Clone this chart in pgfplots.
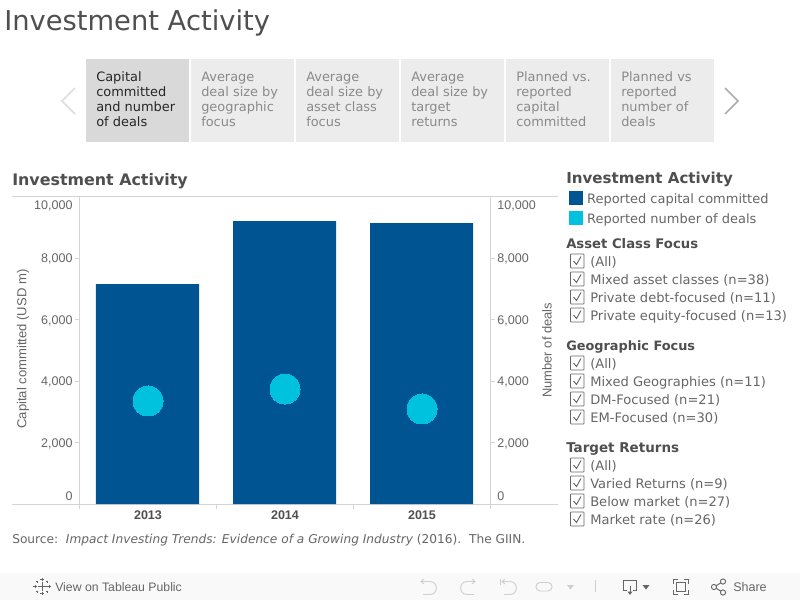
\documentclass[border=0pt]{standalone}
\usepackage{fontspec}
\setmainfont{DejaVu Sans}
\newfontfamily\arialf{Liberation Sans}
\usepackage{pgfplots}
\pgfplotsset{compat=1.18}
\usetikzlibrary{arrows.meta}
\definecolor{barblue}{HTML}{005492}
\definecolor{dotcyan}{HTML}{00C1DE}
\definecolor{rulegray}{HTML}{D4D4D4}
\definecolor{ticktxt}{HTML}{666666}
\definecolor{headtxt}{HTML}{4F4F4F}
\definecolor{paneltxt}{HTML}{666666}
\definecolor{tabon}{HTML}{D9D9D9}
\definecolor{taboff}{HTML}{ECECEC}
\definecolor{tabtxt}{HTML}{8A8A8A}
\definecolor{footbg}{HTML}{F9F9F9}
\definecolor{iconlight}{HTML}{CFCFCF}
\definecolor{icondark}{HTML}{666666}
% text at x, baseline y (pixels from the top left)
\newcommand{\tx}[4][]{\node[anchor=base west,inner sep=0pt,#1] at (#2,#3) {#4};}
\newcommand{\tabtext}[6]{%
  \tx[text=#2,font=\fontsize{9.7}{12}\selectfont]{#1+10}{81}{#3}
  \tx[text=#2,font=\fontsize{9.7}{12}\selectfont]{#1+10}{96}{#4}
  \tx[text=#2,font=\fontsize{9.7}{12}\selectfont]{#1+10}{111}{#5}
  \tx[text=#2,font=\fontsize{9.7}{12}\selectfont]{#1+10}{126}{#6}
}
\newcommand{\panelhead}[3]{\tx[text=headtxt,font=\fontsize{#1}{12}\selectfont\bfseries]{566}{#2}{#3}}
\newcommand{\chk}[2]{%
  \draw[icondark,line width=0.6pt,rounded corners=0.5pt] (570.5,#1-7) rectangle (584,#1+7);
  \draw[icondark,line width=0.7pt] (573.5,#1) -- (576.5,#1+3.5) -- (581,#1-4.5);
  \tx[text=paneltxt,font=\fontsize{9.8}{12}\selectfont]{590}{#1+5}{#2}
}
\begin{document}
\begin{tikzpicture}
\begin{scope}[x=0.75pt,y=-0.75pt]
  \useasboundingbox (0,0) rectangle (800,600);
  \fill[white] (0,0) rectangle (800,600);
  \coordinate (o) at (79.5,504);
  % page title
  \tx[text=headtxt,font=\fontsize{20.5}{24}\selectfont]{4}{30}{Investment Activity}
  % tab strip
  \fill[tabon] (86,59) rectangle (189,142);
  \foreach \xx in {191,296,401,506,611}{\fill[taboff] (\xx,59) rectangle (\xx+103,142);}
  \tabtext{86}{black!85}{Capital}{committed}{and number}{of deals}
  \tabtext{191}{tabtxt}{Average}{deal size by}{geographic}{focus}
  \tabtext{296}{tabtxt}{Average}{deal size by}{asset class}{focus}
  \tabtext{401}{tabtxt}{Average}{deal size by}{target}{returns}
  \tabtext{506}{tabtxt}{Planned vs.}{reported}{capital}{committed}
  \tabtext{611}{tabtxt}{Planned vs}{reported}{number of}{deals}
  \draw[black!13,line width=1.3pt] (75,88) -- (62,101) -- (75,114);
  \draw[black!32,line width=1.3pt] (725,88) -- (738,101) -- (725,114);
  % chart heading and frame rules
  \tx[text=headtxt,font=\fontsize{11.9}{14}\selectfont\bfseries]{12}{185.5}{Investment Activity}
  \draw[rulegray,line width=0.75pt] (12,196.5) -- (558,196.5);
  \draw[rulegray,line width=0.75pt] (12,504) -- (558,504);
  % source
  \tx[text=paneltxt,font=\fontsize{9.14}{12}\selectfont]{12}{543}{Source:\ \ \textit{Impact Investing Trends: Evidence of a Growing Industry} (2016).\ \ The GIIN.}
  % filters
  \panelhead{11.3}{183}{Investment Activity}
  \panelhead{9.9}{248}{Asset Class Focus}
  \chk{261}{(All)}
  \chk{279}{Mixed asset classes (n=38)}
  \chk{297}{Private debt-focused (n=11)}
  \chk{315}{Private equity-focused (n=13)}
  \panelhead{9.65}{350}{Geographic Focus}
  \chk{363}{(All)}
  \chk{381}{Mixed Geographies (n=11)}
  \chk{399}{DM-Focused (n=21)}
  \chk{417}{EM-Focused (n=30)}
  \panelhead{10.1}{452}{Target Returns}
  \chk{465}{(All)}
  \chk{483}{Varied Returns (n=9)}
  \chk{501}{Below market (n=27)}
  \chk{519}{Market rate (n=26)}
  % footer bar
  \fill[footbg] (0,573) rectangle (800,600);
  \begin{scope}[icondark,line width=0.6pt]
    \draw (42,582) -- (42,591) (37.5,586.5) -- (46.5,586.5);
    \foreach \dx/\dy in {0/-7,0/7,-7/0,7/0}{\draw (42+\dx,586.5+\dy-1.6) -- (42+\dx,586.5+\dy+1.6) (42+\dx-1.6,586.5+\dy) -- (42+\dx+1.6,586.5+\dy);}
    \foreach \dx/\dy in {-5/-5,5/-5,-5/5,5/5}{\draw (42+\dx,586.5+\dy-1) -- (42+\dx,586.5+\dy+1) (42+\dx-1,586.5+\dy) -- (42+\dx+1,586.5+\dy);}
  \end{scope}
  \tx[text=icondark,font=\arialf\fontsize{9.2}{11}\selectfont]{55}{591}{View on Tableau Public}
  \tx[text=icondark,font=\arialf\fontsize{9.4}{11}\selectfont]{733}{591}{Share}
  \begin{scope}[iconlight,line width=0.7pt]
    \draw (421,581.5) -- (430,581.5) .. controls (438.5,581.5) and (438.5,594.5) .. (430,594.5) -- (423,594.5);
    \draw (424,579) -- (421,581.5) -- (424,584);
    \draw (475,581.5) -- (467,581.5) .. controls (458.5,581.5) and (458.5,594.5) .. (467,594.5) -- (474,594.5);
    \draw (472,579) -- (475,581.5) -- (472,584);
    \draw (502,581.5) -- (510,581.5) .. controls (518.5,581.5) and (518.5,594.5) .. (510,594.5) -- (504,594.5);
    \draw (505,579) -- (502,581.5) -- (505,584);
    \draw (500.5,578.5) -- (500.5,584.5);
    \draw[rounded corners=3pt] (536,582.5) rectangle (552,591);
    \fill (567,585) -- (574,585) -- (570.5,589.5) -- cycle;
    \draw (595.3,580) -- (595.3,592);
  \end{scope}
  \begin{scope}[icondark,line width=0.7pt]
    \draw (627,590) -- (623,590) -- (623,580) -- (636.5,580) -- (636.5,590) -- (633,590);
    \draw (630,586) -- (630,593);
    \fill (627.5,591.5) -- (632.5,591.5) -- (630,595) -- cycle;
    \fill (642.5,585) -- (649.5,585) -- (646,589.5) -- cycle;
    \draw (673.5,584) -- (673.5,579.5) -- (678,579.5) (684,579.5) -- (688.5,579.5) -- (688.5,584)
          (688.5,590) -- (688.5,594.5) -- (684,594.5) (678,594.5) -- (673.5,594.5) -- (673.5,590);
    \draw (676.5,582.5) rectangle (685.5,591.5);
    \draw (714,587) circle (2.6) (723,581.5) circle (2.6) (723,592.5) circle (2.6);
    \draw (716.3,585.7) -- (720.8,582.8) (716.3,588.3) -- (720.8,591.2);
  \end{scope}
\end{scope}

% bars, left axis
\begin{axis}[
    at={(o)}, anchor=south west,
    scale only axis,
    width=308.25pt, height=230.625pt,
    xmin=-0.5, xmax=2.5, ymin=0, ymax=10000,
    scaled y ticks=false,
    axis y line*=left, axis x line*=bottom,
    axis line style={rulegray,line width=0.75pt,-},
    tick style={rulegray,line width=0.75pt},
    tick align=outside,
    major tick length=3pt, minor tick length=3.75pt,
    xtick={0,1,2}, xticklabels={2013,2014,2015},
    x tick style={draw=none},
    minor xtick={-0.5,0.5,1.5,2.5},
    minor x tick style={draw=rulegray},
    xticklabel style={text=headtxt,font=\arialf\bfseries\fontsize{9.4}{11}\selectfont,inner sep=0pt,yshift=-1.8pt},
    ytick={0,2000,4000,6000,8000,10000},
    yticklabels={%
      \smash{\raisebox{2.8pt}{0}},
      \smash{\raisebox{-3.6pt}{2,000}},
      \smash{\raisebox{-3.6pt}{4,000}},
      \smash{\raisebox{-3.6pt}{6,000}},
      \smash{\raisebox{-3.6pt}{8,000}},
      \smash{\raisebox{-9.5pt}{10,000}}},
    yticklabel style={text=ticktxt,font=\arialf\fontsize{9.4}{11}\selectfont,inner sep=0pt,xshift=-2pt},
    every axis y label/.style={at={(axis description cs:-0.1375,0.504)},rotate=90,anchor=center,inner sep=0pt},
    ylabel={Capital committed (USD m)},
    ylabel style={text=ticktxt,font=\arialf\fontsize{9.8}{12}\selectfont},
    ybar, bar width=77.25pt, bar shift=-0.375pt,
    legend image code/.code={\fill[#1] (0pt,-3.35pt) rectangle (10.5pt,7.15pt);},
    legend cell align=left,
    legend style={at={(1.191,1.0178)},anchor=north west,draw=none,fill=none,
      inner sep=0pt,outer sep=0pt,row sep=2.1pt,
      font=\fontsize{9.73}{12}\selectfont,text=paneltxt,
      nodes={inner sep=0pt,text height=8pt,text depth=3pt}},
]
\addplot[fill=barblue,draw=none,forget plot] coordinates {(0,7154) (1,9203) (2,9138)};
\addlegendimage{fill=barblue,draw=none}
\addlegendentry{\ Reported capital committed}
\addlegendimage{fill=dotcyan,draw=none}
\addlegendentry{\ Reported number of deals}
\end{axis}

% deals, right axis
\begin{axis}[
    at={(o)}, anchor=south west,
    scale only axis,
    width=308.25pt, height=230.625pt,
    xmin=-0.5, xmax=2.5, ymin=0, ymax=10000,
    scaled y ticks=false,
    axis x line=none, axis y line*=right,
    axis line style={rulegray,line width=0.75pt,-},
    tick style={rulegray,line width=0.75pt},
    tick align=outside, major tick length=3pt,
    ytick={0,2000,4000,6000,8000,10000},
    yticklabels={%
      \smash{\raisebox{2.8pt}{0}},
      \smash{\raisebox{-3.6pt}{2,000}},
      \smash{\raisebox{-3.6pt}{4,000}},
      \smash{\raisebox{-3.6pt}{6,000}},
      \smash{\raisebox{-3.6pt}{8,000}},
      \smash{\raisebox{-9.5pt}{10,000}}},
    yticklabel style={text=ticktxt,font=\arialf\fontsize{9.4}{11}\selectfont,inner sep=0pt,xshift=2pt},
    every axis y label/.style={at={(axis description cs:1.1375,0.5)},rotate=90,anchor=center,inner sep=0pt},
    ylabel={Number of deals},
    ylabel style={text=ticktxt,font=\arialf\fontsize{9.7}{12}\selectfont},
    clip=false,
]
\addplot[only marks,draw=dotcyan,mark=*,mark size=11.25pt,mark options={fill=dotcyan,draw=dotcyan,line width=0pt}]
  coordinates {(0,3350) (1,3740) (2,3090)};
\end{axis}
\end{tikzpicture}
\end{document}
